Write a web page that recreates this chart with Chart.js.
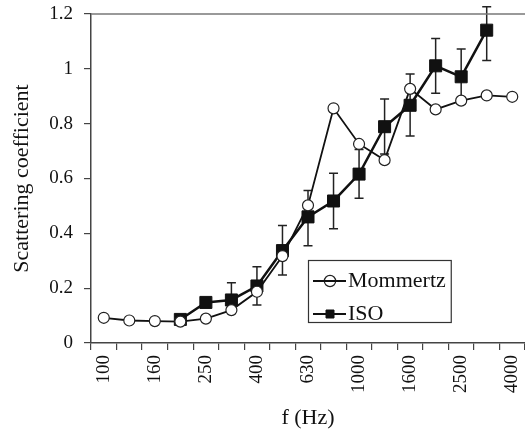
<!DOCTYPE html>
<html>
<head>
<meta charset="utf-8">
<script src="https://cdn.jsdelivr.net/npm/chart.js@4/dist/chart.umd.min.js"></script>
<style>
html,body{margin:0;padding:0;background:#fff;}
#wrap{width:525px;height:436px;}
</style>
</head>
<body>
<div id="wrap"><canvas id="c" width="525" height="436"></canvas></div>
<script>
// one-third octave band centre frequencies (Hz)
const categories = ['100','125','160','200','250','315','400','500','630','800','1000','1250','1600','2000','2500','3150','4000'];
const tickLabels = ['100','160','250','400','630','1000','1600','2500','4000'];
const mommertz = [0.092,0.082,0.080,0.078,0.089,0.120,0.187,0.317,0.502,0.856,0.726,0.667,0.927,0.852,0.884,0.903,0.898];
const iso      = [null,null,null,0.086,0.148,0.157,0.208,0.337,0.460,0.518,0.616,0.789,0.867,1.011,0.971,1.141,null];
const isoErrUp   = [null,null,null,0,0,0.063,0.070,0.092,0.096,0.101,0.090,0.101,0.114,0.100,0.101,0.085,null];
const isoErrDown = [null,null,null,0,0,0.030,0.069,0.089,0.105,0.101,0.088,0.100,0.112,0.100,0.099,0.111,null];

const FONT = "'Liberation Serif', 'Times New Roman', serif";
const INK = '#111';

const decor = {
  id: 'decor',
  afterUpdate(chart) {
    const lg = chart.legend;
    if (!lg) return;
    const w = 150, h = 80;
    lg.left = 312; lg.top = 259; lg.right = lg.left + w; lg.bottom = lg.top + h;
    lg.width = w; lg.height = h;
  },
  beforeDatasetsDraw(chart) {
    const ctx = chart.ctx;
    const meta = chart.getDatasetMeta(1);
    const y = chart.scales.y;
    ctx.save();
    ctx.strokeStyle = '#222';
    ctx.lineWidth = 1.5;
    meta.data.forEach((pt, i) => {
      const v = iso[i];
      if (v === null || isoErrUp[i] === null) return;
      const up = isoErrUp[i], dn = isoErrDown[i];
      if (!up && !dn) return;
      const x = pt.x;
      const yt = y.getPixelForValue(v + up);
      const yb = y.getPixelForValue(v - dn);
      ctx.beginPath();
      ctx.moveTo(x, yt); ctx.lineTo(x, yb);
      ctx.moveTo(x - 4.5, yt); ctx.lineTo(x + 4.5, yt);
      ctx.moveTo(x - 4.5, yb); ctx.lineTo(x + 4.5, yb);
      ctx.stroke();
    });
    ctx.restore();
  },
  afterDraw(chart) {
    const ctx = chart.ctx;
    const a = chart.chartArea;
    ctx.save();
    ctx.strokeStyle = '#777';
    ctx.lineWidth = 1.5;
    ctx.beginPath();
    ctx.moveTo(a.left, a.top); ctx.lineTo(a.right, a.top);
    ctx.stroke();
    const lg = chart.legend;
    if (lg) {
      const pad = lg.options.labels.padding;
      const bw = lg.options.labels.boxWidth;
      const fs = lg.options.labels.font.size;
      const cx = lg.left + pad;
      ctx.font = fs + 'px ' + FONT;
      let maxW = 0;
      chart.data.datasets.forEach(d => { maxW = Math.max(maxW, ctx.measureText(d.label).width); });
      const textX = cx + bw + fs / 2;
      ctx.strokeStyle = '#333';
      ctx.lineWidth = 1.2;
      ctx.strokeRect(lg.left - 4 + 0.5, lg.top + 1 + 0.5, textX + maxW + 5 - (lg.left - 4), 62);
      ctx.strokeStyle = INK;
      ctx.lineWidth = 2.2;
      chart.data.datasets.forEach((d, i) => {
        const yy = lg.top + pad + i * (fs + pad) + fs / 2;
        ctx.beginPath();
        ctx.moveTo(cx - 10, yy); ctx.lineTo(cx + bw + 9, yy);
        ctx.stroke();
      });
    }
    ctx.restore();
  }
};

new Chart(document.getElementById('c'), {
  type: 'line',
  data: {
    labels: categories,
    datasets: [
      {
        label: 'Mommertz',
        data: mommertz,
        borderColor: INK,
        borderWidth: 1.8,
        pointStyle: 'circle',
        pointRadius: 5.5,
        pointBorderWidth: 1.2,
        pointBackgroundColor: '#fff',
        pointBorderColor: '#222',
        tension: 0,
        spanGaps: false
      },
      {
        label: 'ISO',
        data: iso,
        borderColor: INK,
        borderWidth: 2.5,
        pointStyle: 'rect',
        pointRadius: 8.5,
        pointBorderWidth: 1,
        pointBackgroundColor: INK,
        pointBorderColor: INK,
        tension: 0,
        spanGaps: false
      }
    ]
  },
  options: {
    responsive: false,
    devicePixelRatio: 1,
    animation: false,
    layout: { autoPadding: false, padding: { top: 14, right: 0, left: 0, bottom: 0 } },
    plugins: {
      legend: {
        position: 'chartArea',
        align: 'start',
        labels: {
          usePointStyle: true,
          boxWidth: 14,
          boxHeight: 8,
          padding: 11,
          color: INK,
          font: { family: FONT, size: 22 }
        }
      },
      tooltip: { enabled: false }
    },
    scales: {
      x: {
        type: 'category',
        offset: true,
        afterFit(s) { s.height = 93; s.paddingLeft = 0; s.paddingRight = 0; },
        grid: { offset: true, drawOnChartArea: false, drawTicks: true, tickLength: 7, color: '#444', lineWidth: 1.2 },
        border: { color: '#444', width: 1.5 },
        ticks: {
          autoSkip: false,
          minRotation: 90,
          maxRotation: 90,
          padding: 5,
          color: INK,
          font: { family: FONT, size: 19 },
          callback(v, i) { const l = categories[i]; return tickLabels.includes(l) ? l : ''; }
        },
        title: { display: true, text: 'f (Hz)', color: INK, font: { family: FONT, size: 22 }, padding: { top: 0, bottom: 5 } }
      },
      y: {
        min: 0,
        max: 1.2,
        afterFit(s) { s.width = 91; s.paddingTop = 0; s.paddingBottom = 0; },
        grid: { drawOnChartArea: false, drawTicks: true, tickLength: 7, color: '#444', lineWidth: 1.2 },
        border: { color: '#444', width: 1.5 },
        ticks: {
          stepSize: 0.2, padding: 11, color: INK, font: { family: FONT, size: 19 },
          callback(v) { return String(Number(v.toFixed(1))); }
        },
        title: { display: true, text: 'Scattering coefficient', color: INK, font: { family: FONT, size: 22 }, padding: { top: 9, bottom: 0 } }
      }
    }
  },
  plugins: [decor]
});
</script>
</body>
</html>
